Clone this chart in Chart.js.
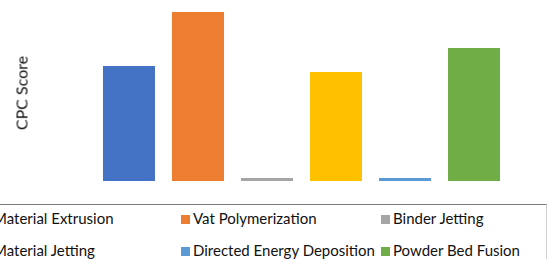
<!DOCTYPE html>
<html>
<head>
<meta charset="utf-8">
<script src="https://cdn.jsdelivr.net/npm/chart.js@4.4.1/dist/chart.umd.min.js"></script>
<style>
  html, body { margin: 0; padding: 0; background: #fff; }
  .wrap { position: relative; width: 548px; height: 259px; overflow: hidden; font-family: Lato, "Liberation Sans", sans-serif; color: #111; }
  .plot { position: absolute; left: 0; top: 0; width: 548px; height: 190px; }
  .ytitle { position: absolute; left: 21px; top: 93px; transform: translate(-50%, -50%) rotate(-90deg); font-size: 16px; white-space: nowrap; }
  .legend { position: absolute; left: -40px; top: 204px; width: 586px; height: 80px; border-top: 1.5px solid #7a7a7a; border-right: 1px solid #d0d0d0; }
  .legend ul { list-style: none; margin: 0; padding: 0; }
  .legend li { position: absolute; font-size: 15px; white-space: nowrap; line-height: 16px; }
  .legend li i { display: inline-block; width: 9px; height: 9px; margin-right: 3px; vertical-align: 0px; }
</style>
</head>
<body>
<div class="wrap">
  <div class="plot"><canvas class="my-chart"></canvas></div>
  <div class="ytitle">CPC Score</div>
  <div class="legend"><ul></ul></div>
</div>
<script>
const seriesNames = ["Material Extrusion", "Vat Polymerization", "Binder Jetting",
  "Material Jetting", "Directed Energy Deposition", "Powder Bed Fusion"];
const seriesValues = [0.68, 1.0, 0.018, 0.645, 0.018, 0.787];
const seriesColors = ["#4472C4", "#ED7D31", "#A5A5A5", "#FFC000", "#5B9BD5", "#70AD47"];
const categories = ["CPC"];

const myChart = document.querySelector(".my-chart");
const ul = document.querySelector(".legend ul");

new Chart(myChart, {
  type: "bar",
  data: {
    labels: categories,
    datasets: seriesNames.map((name, i) => ({
      label: name,
      data: [seriesValues[i]],
      backgroundColor: seriesColors[i],
      borderWidth: 0,
      categoryPercentage: 0.868,
      barPercentage: 0.7536,
    })),
  },
  options: {
    responsive: true,
    maintainAspectRatio: false,
    animation: false,
    layout: { padding: { left: 63, right: 8, top: 12, bottom: 9 } },
    plugins: { legend: { display: false }, tooltip: { enabled: false } },
    scales: {
      x: { display: false },
      y: { display: false, min: 0, max: 1 },
    },
  },
});

// legend: 3 columns x 2 rows, left column cut off like the source
const populateUl = () => {
  seriesNames.forEach((l, i) => {
    const col = i % 3, row = Math.floor(i / 3);
    let li = document.createElement("li");
    li.style.left = (21 + col * 200) + "px";
    li.style.top = (5 + row * 32) + "px";
    li.innerHTML = `<i style="background:${seriesColors[i]}"></i>${l}`;
    ul.appendChild(li);
  });
};

populateUl();
</script>
</body>
</html>
